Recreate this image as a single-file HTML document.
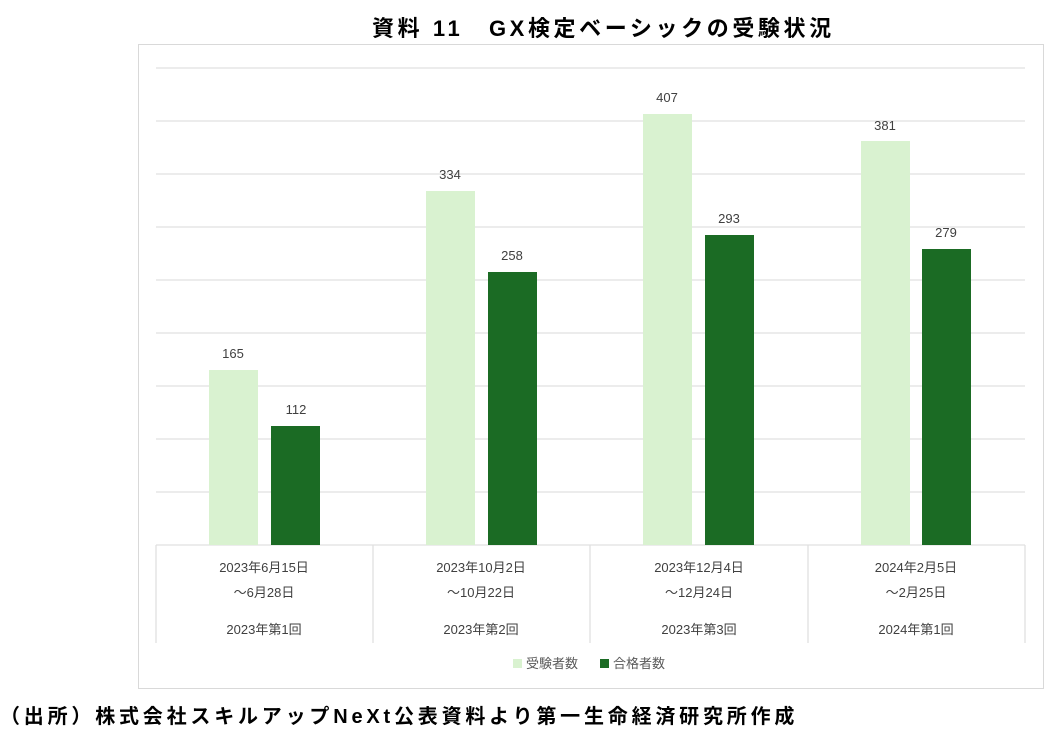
<!DOCTYPE html>
<html><head><meta charset="utf-8"><style>
body{margin:0;width:1051px;height:727px;background:#fff;position:relative;overflow:hidden;font-family:"Liberation Sans","Noto Sans CJK JP",sans-serif;}
.t{position:absolute;white-space:nowrap;}
</style></head><body>
<div class="t" style="left:372px;width:470px;top:11px;font-size:22px;font-weight:bold;color:#000;letter-spacing:3.6px;">資料 11　GX検定ベーシックの受験状況</div>
<svg width="1051" height="727" style="position:absolute;left:0;top:0">
<rect x="138.5" y="44.5" width="905" height="644" fill="none" stroke="#d9d9d9"/>
<g stroke="#e0e0e0" stroke-width="1.3">
<line x1="156" x2="1025" y1="68" y2="68"/><line x1="156" x2="1025" y1="121" y2="121"/>
<line x1="156" x2="1025" y1="174" y2="174"/><line x1="156" x2="1025" y1="227" y2="227"/>
<line x1="156" x2="1025" y1="280" y2="280"/><line x1="156" x2="1025" y1="333" y2="333"/>
<line x1="156" x2="1025" y1="386" y2="386"/><line x1="156" x2="1025" y1="439" y2="439"/>
<line x1="156" x2="1025" y1="492" y2="492"/><line x1="156" x2="1025" y1="545" y2="545"/>
<line x1="156" x2="156" y1="545" y2="643"/><line x1="373" x2="373" y1="545" y2="643"/>
<line x1="590" x2="590" y1="545" y2="643"/><line x1="808" x2="808" y1="545" y2="643"/>
<line x1="1025" x2="1025" y1="545" y2="643"/>
</g>
<g fill="#d9f2d0">
<rect x="209" y="370" width="49" height="175"/><rect x="426" y="191" width="49" height="354"/>
<rect x="643" y="114" width="49" height="431"/><rect x="861" y="141" width="49" height="404"/>
</g>
<g fill="#1b6b24">
<rect x="271" y="426" width="49" height="119"/><rect x="488" y="272" width="49" height="273"/>
<rect x="705" y="235" width="49" height="310"/><rect x="922" y="249" width="49" height="296"/>
</g>
<g font-size="13" fill="#404040" text-anchor="middle" font-family="Liberation Sans, sans-serif">
<text x="233" y="358">165</text><text x="296" y="414">112</text>
<text x="450" y="179">334</text><text x="512" y="260">258</text>
<text x="667" y="102">407</text><text x="729" y="223">293</text>
<text x="885" y="130">381</text><text x="946" y="237">279</text>
</g>
<g font-size="13" fill="#404040" text-anchor="middle" font-family="Liberation Sans, Noto Sans CJK JP, sans-serif">
<text x="264" y="572">2023年6月15日</text><text x="264" y="597">〜6月28日</text><text x="264" y="634">2023年第1回</text>
<text x="481" y="572">2023年10月2日</text><text x="481" y="597">〜10月22日</text><text x="481" y="634">2023年第2回</text>
<text x="699" y="572">2023年12月4日</text><text x="699" y="597">〜12月24日</text><text x="699" y="634">2023年第3回</text>
<text x="916" y="572">2024年2月5日</text><text x="916" y="597">〜2月25日</text><text x="916" y="634">2024年第1回</text>
</g>
<rect x="513" y="659" width="9" height="9" fill="#d9f2d0"/>
<text x="526" y="668" font-size="13" fill="#595959" font-family="Liberation Sans, Noto Sans CJK JP, sans-serif">受験者数</text>
<rect x="600" y="659" width="9" height="9" fill="#1b6b24"/>
<text x="613" y="668" font-size="13" fill="#595959" font-family="Liberation Sans, Noto Sans CJK JP, sans-serif">合格者数</text>
</svg>
<div class="t" style="left:0;top:700px;font-size:20px;font-weight:bold;color:#000;letter-spacing:3.8px;">（出所）株式会社スキルアップNeXt公表資料より第一生命経済研究所作成</div>
</body></html>
